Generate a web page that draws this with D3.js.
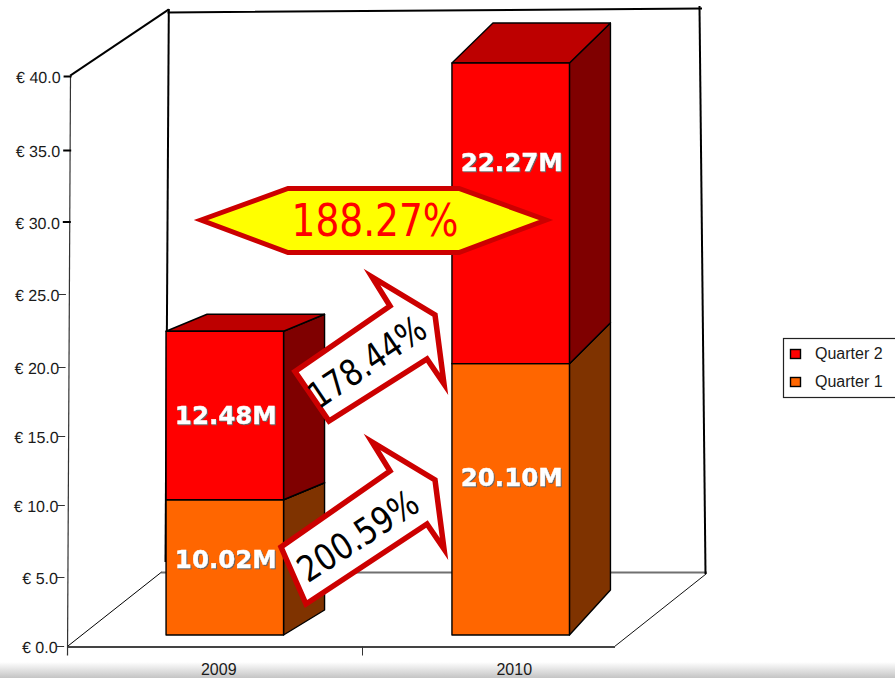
<!DOCTYPE html>
<html>
<head>
<meta charset="utf-8">
<script src="https://cdnjs.cloudflare.com/ajax/libs/d3/7.8.5/d3.min.js"></script>
<style>
  html, body { margin: 0; padding: 0; background: #fff; overflow: hidden; }
  svg { display: block; }
  .sans { font-family: "Liberation Sans", Arial, sans-serif; fill: #1a1a1a; }
  .callout { font-family: "DejaVu Sans", Verdana, sans-serif; }
  .value { font-family: "DejaVu Sans", Verdana, sans-serif; font-weight: bold; font-size: 24.5px; fill: #fff;
           stroke: #fff; stroke-width: 0.4px;
           filter: drop-shadow(1.5px 1.5px 0.6px #666); }
</style>
</head>
<body>
<svg id="chart" width="895" height="678"></svg>
<script>
// Revenue per year, stacked by quarter (millions of euro)
const categories = ["2009", "2010"];
const seriesNames = ["Quarter 1", "Quarter 2"];
const quarter1 = [10.02, 20.10];
const quarter2 = [12.48, 22.27];
const axisTicks = [0, 5, 10, 15, 20, 25, 30, 35, 40];
const growthQuarter1 = "200.59%";
const growthQuarter2 = "178.44%";
const growthTotal = "188.27%";

const colors = {
  "Quarter 1": { front: "#ff6600", side: "#7f3300", top: "#bf4c00" },
  "Quarter 2": { front: "#ff0000", side: "#7f0000", top: "#bd0000" }
};
const accent = "#cc0000";

const svg = d3.select("#chart");
const defs = svg.append("defs");

// Window-edge shading along the bottom
const shade = defs.append("linearGradient").attr("id", "edge").attr("x1", 0).attr("x2", 0).attr("y1", 0).attr("y2", 1);
shade.append("stop").attr("offset", 0).attr("stop-color", "#fff");
shade.append("stop").attr("offset", 1).attr("stop-color", "#c4c4c4");
svg.append("rect").attr("x", 0).attr("y", 662).attr("width", 895).attr("height", 16).attr("fill", "url(#edge)");

// Scales: the wall axis, the bars (set back from the wall) and the category labels
const yAxisScale = d3.scaleLinear().domain(axisTicks).range([646, 577, 505, 436, 367, 294, 221.5, 150, 76]);
const yBar = d3.scaleLinear().domain([0, 40]).range([635, 95]);
const xBar = d3.scaleBand().domain(categories).range([82, 653.5]).paddingInner(0.589).paddingOuter(0.294);
const xLabel = d3.scaleBand().domain(categories).range([71, 662]);

// Depth of the 3D extrusion; the vertical rise differs per bar and per level
const depthX = 41;
const depthY = { "2009": [-25, -17, -17], "2010": [-45, -41, -40] };

// Box frame
const frame = svg.append("g").attr("fill", "none").attr("stroke-linecap", "square");
const seg = (a, b, stroke, w) => frame.append("line")
  .attr("x1", a[0]).attr("y1", a[1]).attr("x2", b[0]).attr("y2", b[1])
  .attr("stroke", stroke).attr("stroke-width", w);
seg([162, 572.5], [706, 572.5], "#707070", 1.8);
seg([168.5, 12.5], [701, 8.5], "#000", 2);
seg([168.8, 10], [165.5, 561], "#000", 2);
seg([699.5, 7], [705.5, 573], "#000", 2);
seg([71, 75], [168, 10], "#000", 2);
seg([68, 646], [161, 572.5], "#000", 1);
seg([614, 647], [706, 574], "#111", 1);
seg([68, 647], [614, 647], "#444", 2);
seg([70.5, 76], [67.5, 655], "#333", 1.2);
seg([362.5, 647], [362.5, 655], "#333", 1);

// Value axis, leaning slightly with the front edge of the box
const yAxis = d3.axisLeft(yAxisScale)
  .tickValues(axisTicks)
  .tickSizeOuter(0)
  .tickSize(7)
  .tickPadding(3)
  .tickFormat(d => "€ " + d3.format(".1f")(d));
const yG = svg.append("g").attr("transform", "translate(71,0) skewX(-0.3)").call(yAxis);
yG.select(".domain").remove();
yG.selectAll("text").attr("class", "sans").style("font-size", "16px").attr("fill", null)
  .attr("font-family", null).attr("dy", "0.42em");
yG.selectAll("line").attr("stroke", d => d >= 30 ? "#000" : "#333")
  .attr("stroke-width", d => d >= 30 ? 2 : 1)
  .attr("x1", d => d >= 30 ? 1 : -3.5)
  .attr("x2", d => d >= 30 ? -7 : -11);

// Category axis
const xG = svg.append("g").attr("transform", "translate(0,647)")
  .call(d3.axisBottom(xLabel).tickSize(0).tickPadding(17));
xG.select(".domain").remove();
xG.selectAll("text").attr("class", "sans").style("font-size", "16px").attr("fill", null).attr("font-family", null);

// Stacked 3D bars
const rows = categories.map((c, i) => ({ category: c, "Quarter 1": quarter1[i], "Quarter 2": quarter2[i] }));
const stacked = d3.stack().keys(seriesNames)(rows);
const barOutline = { stroke: "#000", "stroke-width": 1.4, "stroke-linejoin": "round" };
const line = d3.line();

const layers = svg.append("g").selectAll("g").data(stacked).join("g");
layers.each(function (layer, levelIdx) {
  const g = d3.select(this);
  const c = colors[layer.key];
  layer.forEach(d => {
    const cat = d.data.category;
    const left = xBar(cat), right = left + xBar.bandwidth();
    const y0 = yBar(d[0]), y1 = yBar(d[1]);
    const rise0 = depthY[cat][levelIdx], rise1 = depthY[cat][levelIdx + 1];
    const side = g.append("path").attr("fill", c.side)
      .attr("d", line([[right, y0], [right + depthX, y0 + rise0], [right + depthX, y1 + rise1], [right, y1]]) + "Z");
    const top = g.append("path").attr("fill", c.top)
      .attr("d", line([[left, y1], [left + depthX, y1 + rise1], [right + depthX, y1 + rise1], [right, y1]]) + "Z");
    const front = g.append("rect").attr("fill", c.front)
      .attr("x", left).attr("y", y1).attr("width", xBar.bandwidth()).attr("height", y0 - y1);
    [side, top, front].forEach(m => Object.entries(barOutline).forEach(([k, v]) => m.attr(k, v)));
  });
});

// Value labels, placed a set fraction of the way down each segment
const labelDrop = { "2009": [0.44, 0.5], "2010": [0.42, 0.33] };
layers.each(function (layer, levelIdx) {
  d3.select(this).selectAll("text").data(layer).join("text")
    .attr("class", "value")
    .attr("text-anchor", "middle")
    .attr("dominant-baseline", "central")
    .attr("x", d => xBar(d.data.category) + xBar.bandwidth() / 2 + 1)
    .attr("y", d => {
      const f = labelDrop[d.data.category][levelIdx];
      return yBar(d[1]) + (yBar(d[0]) - yBar(d[1])) * f;
    })
    .text(d => d3.format(".2f")(d[1] - d[0]) + "M");
});
// Labels stay above every bar
layers.selectAll("text").each(function () { svg.node().appendChild(this); });

// Growth callouts
const callouts = svg.append("g");
const outlineShape = (pts, fill, width) => callouts.append("path")
  .attr("d", line(pts) + "Z").attr("fill", fill)
  .attr("stroke", accent).attr("stroke-width", width).attr("stroke-linejoin", "miter").attr("stroke-miterlimit", 8);

const calloutText = (text, cx, cy, angle, size, length) => callouts.append("text")
  .attr("class", "callout")
  .attr("text-anchor", "middle").attr("dominant-baseline", "central")
  .attr("transform", `translate(${cx},${cy}) rotate(${angle})`)
  .attr("font-size", size).attr("fill", "#000")
  .attr("textLength", length).attr("lengthAdjust", "spacingAndGlyphs")
  .text(text);

outlineShape([[295, 371.5], [390, 306], [372, 277], [435, 315], [444, 384], [427, 359], [329, 421]], "#fff", 5.5);
calloutText(growthQuarter2, 367, 362, -34, 36, 134);

outlineShape([[281, 547], [390, 471], [372, 442], [435, 480], [444, 549], [427, 524], [306, 604]], "#fff", 5.5);
calloutText(growthQuarter1, 358, 536, -33, 36, 136);

outlineShape([[201, 220], [288, 188.5], [459, 188.5], [546, 220], [459, 252.5], [288, 252.5]], "#ffff00", 5);
callouts.append("text").attr("class", "callout")
  .attr("text-anchor", "middle")
  .attr("x", 375).attr("y", 236)
  .attr("font-size", 44).attr("fill", "#ff0000")
  .attr("textLength", 167).attr("lengthAdjust", "spacingAndGlyphs")
  .text(growthTotal);

// Legend, running off the right edge
const legend = svg.append("g");
legend.append("rect").attr("x", 783.5).attr("y", 338.5).attr("width", 130).attr("height", 59)
  .attr("fill", "#fff").attr("stroke", "#222").attr("stroke-width", 1.2);
const legendY = d3.scalePoint().domain([...seriesNames].reverse()).range([354, 382]);
const entry = legend.selectAll("g").data([...seriesNames].reverse()).join("g")
  .attr("transform", d => `translate(0,${legendY(d)})`);
entry.append("rect").attr("x", 790.5).attr("y", -4.5).attr("width", 10).attr("height", 9)
  .attr("fill", d => colors[d].front).attr("stroke", "#000").attr("stroke-width", 1.4);
entry.append("text").attr("class", "sans").attr("x", 815).attr("y", 5)
  .style("font-size", "16px").text(d => d);
</script>
</body>
</html>
